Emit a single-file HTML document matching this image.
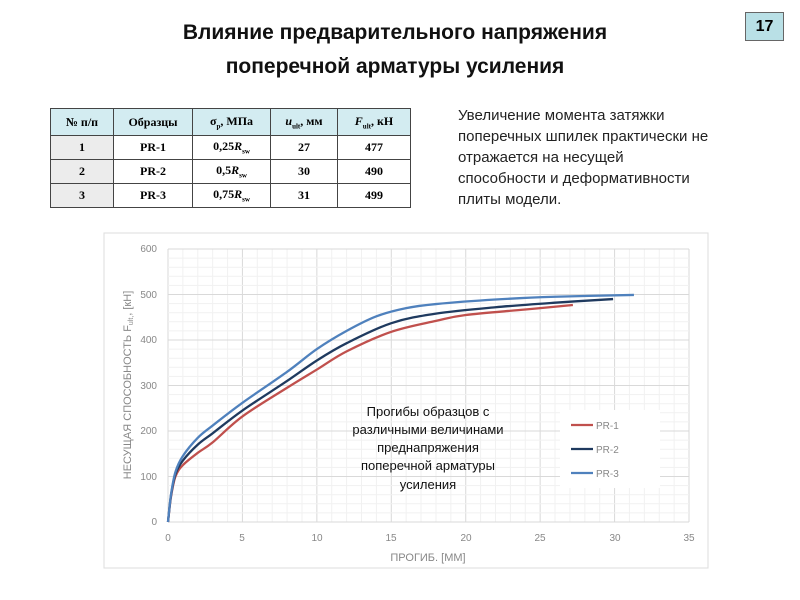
<!DOCTYPE html>
<html><head><meta charset="utf-8"><style>
body{margin:0;width:800px;height:600px;background:#fff;position:relative;font-family:"Liberation Sans",sans-serif;overflow:hidden}
.t{position:absolute;left:100px;width:590px;top:16px;text-align:center;font-weight:bold;font-size:21px;line-height:34px;color:#111}
.b{position:absolute;left:745px;top:12px;width:37px;height:27px;background:#b9e0e6;border:1px solid #666;text-align:center;font-weight:bold;font-size:16px;line-height:27px}
table{position:absolute;left:50px;top:108px;border-collapse:collapse;font-family:"Liberation Serif",serif;font-weight:bold;font-size:12px}
td{border:1px solid #444;text-align:center;height:23px;padding:0}
tr:first-child td{background:#d3ecf1;height:26px}
td:first-child{background:#ececec}
.p{position:absolute;left:458px;top:105px;font-size:15px;line-height:21px;color:#222}
sub{font-size:7px}
</style></head><body>
<div class="t">Влияние предварительного напряжения<br>поперечной арматуры усиления</div>
<div class="b">17</div>
<table>
<tr><td style="width:62px">№ п/п</td><td style="width:78px">Образцы</td><td style="width:77px">σ<sub>p</sub>, МПа</td><td style="width:66px"><i>u</i><sub>ult</sub>, мм</td><td style="width:72px"><i>F</i><sub>ult</sub>, кН</td></tr>
<tr><td>1</td><td>PR-1</td><td>0,25<i>R</i><sub>sw</sub></td><td>27</td><td>477</td></tr>
<tr><td>2</td><td>PR-2</td><td>0,5<i>R</i><sub>sw</sub></td><td>30</td><td>490</td></tr>
<tr><td>3</td><td>PR-3</td><td>0,75<i>R</i><sub>sw</sub></td><td>31</td><td>499</td></tr>
</table>
<div class="p">Увеличение момента затяжки<br>поперечных шпилек практически не<br>отражается на несущей<br>способности и деформативности<br>плиты модели.</div>
<svg style="position:absolute;left:0;top:0" width="800" height="600">
<rect x="104" y="233" width="604" height="335" fill="#fff" stroke="#ddd"/>
<g id="g"></g>
<g font-family="Liberation Sans" font-size="10" fill="#888" text-anchor="end">
<text x="157" y="525">0</text><text x="157" y="480">100</text><text x="157" y="434">200</text><text x="157" y="389">300</text><text x="157" y="343">400</text><text x="157" y="298">500</text><text x="157" y="252">600</text>
</g>
<g font-family="Liberation Sans" font-size="10" fill="#888" text-anchor="middle">
<text x="168" y="541">0</text><text x="242" y="541">5</text><text x="317" y="541">10</text><text x="391" y="541">15</text><text x="466" y="541">20</text><text x="540" y="541">25</text><text x="615" y="541">30</text><text x="689" y="541">35</text>
<text x="428" y="561" font-size="11">ПРОГИБ. [ММ]</text>
<text transform="translate(131,385) rotate(-90)" font-size="11">НЕСУЩАЯ СПОСОБНОСТЬ F<tspan font-size="7" dy="2">ult,</tspan><tspan dy="-2">, [кН]</tspan></text>
</g>
<rect x="560" y="410" width="100" height="78" fill="#fff"/>
<g fill="none" stroke-width="2.3" id="c"></g>
<g font-family="Liberation Sans" font-size="13" fill="#111" text-anchor="middle">
<text x="428" y="416">Прогибы образцов с</text><text x="428" y="434">различными величинами</text><text x="428" y="452">преднапряжения</text><text x="428" y="470">поперечной арматуры</text><text x="428" y="489">усиления</text>
</g>
<g font-family="Liberation Sans" font-size="10" fill="#888">
<line x1="571" y1="425" x2="593" y2="425" stroke="#c0504d" stroke-width="2.3"/><text x="596" y="429">PR-1</text>
<line x1="571" y1="449" x2="593" y2="449" stroke="#1f3a5f" stroke-width="2.3"/><text x="596" y="453">PR-2</text>
<line x1="571" y1="473" x2="593" y2="473" stroke="#4f81bd" stroke-width="2.3"/><text x="596" y="477">PR-3</text>
</g>
</svg>
<script>
var X=function(v){return 168+v*14.886},Y=function(v){return 522-v*0.455};
var g='';
for(var i=0;i<=35;i++){g+='<line x1="'+X(i)+'" y1="249" x2="'+X(i)+'" y2="522" stroke="'+(i%5?'#f1f1f1':'#d9d9d9')+'"/>';}
for(var j=0;j<=600;j+=20){g+='<line x1="168" y1="'+Y(j)+'" x2="689" y2="'+Y(j)+'" stroke="'+(j%100?'#f1f1f1':'#d9d9d9')+'"/>';}
document.getElementById('g').innerHTML=g;
var S=[['#c0504d',[[0,0],[0.2,55],[0.5,100],[1,125],[2,152],[3,175],[5,232],[8,295],[10,335],[12,375],[15,418],[18,442],[20,455],[24,467],[27.2,477]]],
['#1f3a5f',[[0,0],[0.2,58],[0.5,105],[1,135],[2,170],[3,195],[5,245],[8,310],[10,355],[12,393],[15,437],[18,458],[22,472],[26,482],[29.9,490]]],
['#4f81bd',[[0,0],[0.2,60],[0.5,110],[1,145],[2,185],[3,212],[5,262],[8,330],[10,380],[12,420],[14,452],[16,470],[18,479],[22,489],[26,495],[31.3,499]]]];
var c='';
S.forEach(function(s){var p=s[1],d='M'+X(p[0][0])+' '+Y(p[0][1]);
for(var k=0;k<p.length-1;k++){var p0=p[k>0?k-1:0],p1=p[k],p2=p[k+1],p3=p[k+2<p.length?k+2:k+1];
d+=' C'+(X(p1[0])+(X(p2[0])-X(p0[0]))/6)+' '+(Y(p1[1])+(Y(p2[1])-Y(p0[1]))/6)+' '+(X(p2[0])-(X(p3[0])-X(p1[0]))/6)+' '+(Y(p2[1])-(Y(p3[1])-Y(p1[1]))/6)+' '+X(p2[0])+' '+Y(p2[1]);}
c+='<path d="'+d+'" stroke="'+s[0]+'"/>';});
document.getElementById('c').innerHTML=c;
</script>
</body></html>
